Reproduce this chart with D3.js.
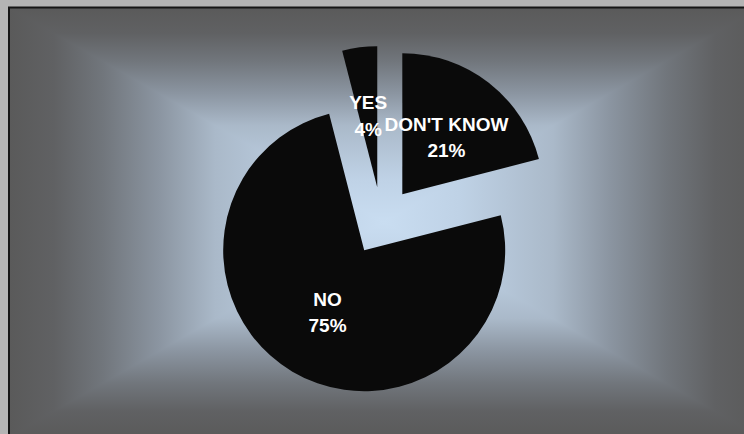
<!DOCTYPE html>
<html>
<head>
<meta charset="utf-8">
<script src="https://cdn.jsdelivr.net/npm/d3@7"></script>
<style>
  html, body { margin: 0; padding: 0; background: #b4b4b4; }
  svg { display: block; }
</style>
</head>
<body>
<svg id="chart" width="744" height="434"></svg>
<script>
// Survey answers
const categories = ["YES", "DON'T KNOW", "NO"];
const values = [4, 21, 75];
const labelText = ["4%", "21%", "75%"];

const W = 744, H = 434;
const svg = d3.select("#chart");

// Plot area (extends past the right and bottom edges of the page)
const area = { x0: 9, y0: 7.5, x1: 760, y1: 437 };
const gc = { x: 384, y: 222 }; // focus of the rectangular gradient

// Rectangular "from centre" fill: four triangles, each with a linear ramp
// running from its outer edge to the focus point.
const stops = [
  [0.00, "#c9ddf1"],
  [0.20, "#bfd2e6"],
  [0.45, "#aab9c9"],
  [0.60, "#8b95a1"],
  [0.75, "#71767c"],
  [0.88, "#606163"],
  [1.00, "#5a5a5a"]
];
const defs = svg.append("defs");
const sides = [
  { id: "gL", pts: [[area.x0, area.y0], [gc.x, gc.y], [area.x0, area.y1]], from: [area.x0, gc.y] },
  { id: "gR", pts: [[area.x1, area.y0], [gc.x, gc.y], [area.x1, area.y1]], from: [area.x1, gc.y] },
  { id: "gT", pts: [[area.x0, area.y0], [area.x1, area.y0], [gc.x, gc.y]], from: [gc.x, area.y0] },
  { id: "gB", pts: [[area.x0, area.y1], [area.x1, area.y1], [gc.x, gc.y]], from: [gc.x, area.y1] }
];
sides.forEach(s => {
  const g = defs.append("linearGradient")
    .attr("id", s.id)
    .attr("gradientUnits", "userSpaceOnUse")
    .attr("x1", s.from[0]).attr("y1", s.from[1])
    .attr("x2", gc.x).attr("y2", gc.y);
  stops.slice().reverse().forEach(([t, c]) => {
    g.append("stop").attr("offset", 1 - t).attr("stop-color", c);
  });
});

svg.append("rect")
  .attr("x", area.x0).attr("y", area.y0)
  .attr("width", area.x1 - area.x0).attr("height", area.y1 - area.y0)
  .attr("fill", "#8b95a1");

svg.append("g").selectAll("polygon")
  .data(sides)
  .join("polygon")
  .attr("points", d => d.pts.map(p => p.join(",")).join(" "))
  .attr("fill", d => `url(#${d.id})`)
  .attr("shape-rendering", "crispEdges");

// Plot area border
svg.append("rect")
  .attr("x", area.x0).attr("y", area.y0)
  .attr("width", area.x1 - area.x0 + 10).attr("height", area.y1 - area.y0 + 10)
  .attr("fill", "none")
  .attr("stroke", "#151515")
  .attr("stroke-width", 2);

// Exploded pie
const cx = 381.5, cy = 221, radius = 141, explode = 34, labelRadius = 72;
const firstSliceAngle = 345.6 * Math.PI / 180;

const pie = d3.pie()
  .sort(null)
  .value(d => d.value)
  .startAngle(firstSliceAngle)
  .endAngle(firstSliceAngle + 2 * Math.PI);

const data = categories.map((c, i) => ({ category: c, value: values[i], label: labelText[i] }));
const arcs = pie(data);

const arc = d3.arc().innerRadius(0).outerRadius(radius);
const labelArc = d3.arc().innerRadius(labelRadius).outerRadius(labelRadius);

function offset(d) {
  const a = (d.startAngle + d.endAngle) / 2;
  return [explode * Math.sin(a), -explode * Math.cos(a)];
}

const slices = svg.append("g")
  .attr("transform", `translate(${cx},${cy})`)
  .selectAll("g")
  .data(arcs)
  .join("g")
  .attr("transform", d => `translate(${offset(d)})`);

slices.append("path")
  .attr("d", arc)
  .attr("fill", "#0a0a0a");

const labels = svg.append("g")
  .attr("transform", `translate(${cx},${cy})`)
  .selectAll("text")
  .data(arcs)
  .join("text")
  .attr("transform", d => {
    const o = offset(d), c = labelArc.centroid(d);
    return `translate(${o[0] + c[0]},${o[1] + c[1]})`;
  })
  .attr("text-anchor", "middle")
  .attr("font-family", "'Liberation Sans', Arial, sans-serif")
  .attr("font-weight", "bold")
  .attr("font-size", 19)
  .attr("fill", "#ffffff");

labels.append("tspan").attr("x", 0).attr("y", -6.5).text(d => d.data.category);
labels.append("tspan").attr("x", 0).attr("y", 20).text(d => d.data.label);
</script>
</body>
</html>
